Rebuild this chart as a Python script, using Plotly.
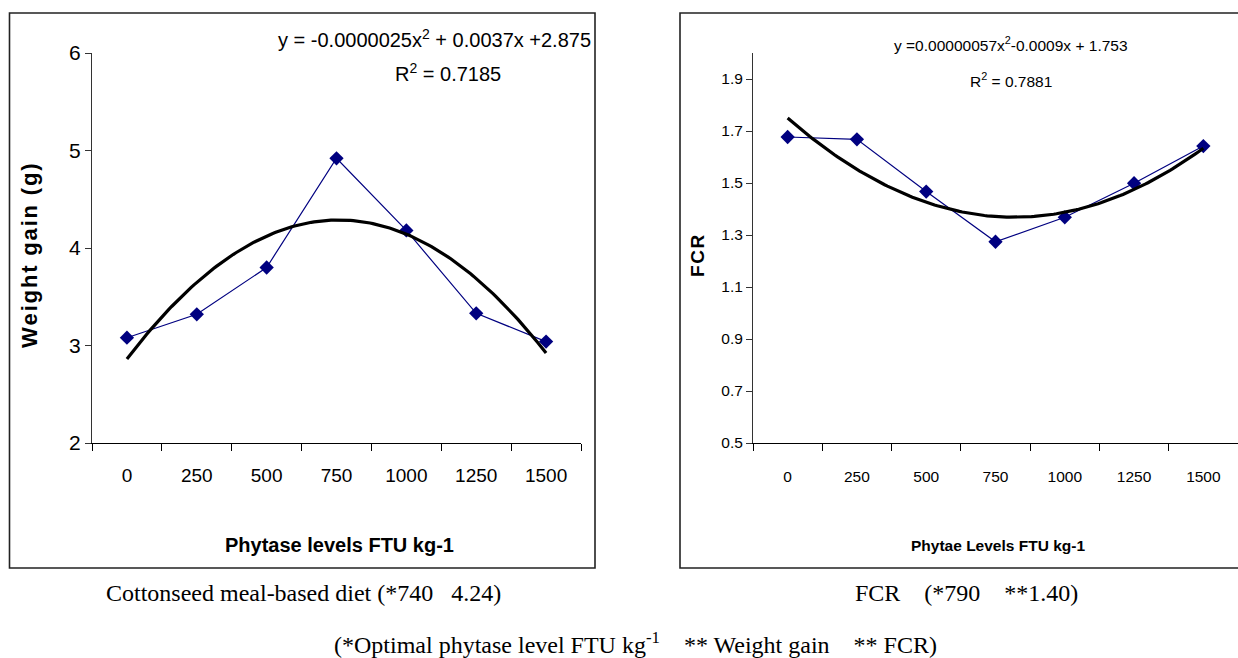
import numpy as np
import plotly.graph_objects as go

# ---------------- data ----------------
phytase_levels = [0, 250, 500, 750, 1000, 1250, 1500]
tick_labels = ["0", "250", "500", "750", "1000", "1250", "1500"]
weight_gain = [3.08, 3.32, 3.80, 4.92, 4.18, 3.33, 3.04]
fcr = [1.677, 1.668, 1.467, 1.274, 1.368, 1.499, 1.642]
wg_yticks = [2, 3, 4, 5, 6]
fcr_yticks = [0.5, 0.7, 0.9, 1.1, 1.3, 1.5, 1.7, 1.9]
category_bounds = [-125, 125, 375, 625, 875, 1125, 1375, 1625]

# quadratic trend lines fitted to the data (Excel-style polynomial trendline)
xs = np.linspace(0, 1500, 151)
wg_fit = np.polyval(np.polyfit(phytase_levels, weight_gain, 2), xs)
fcr_fit = np.polyval(np.polyfit(phytase_levels, fcr, 2), xs)

W, H = 1238, 658
def px(x):
    return x / W
def py(y):
    return (H - y) / H

SANS = "Liberation Sans, Arial, sans-serif"
SERIF = "Liberation Serif, Times New Roman, serif"
NAVY = "#000080"

fig = go.Figure()

# left chart
fig.add_trace(go.Scatter(x=phytase_levels, y=weight_gain, mode="lines+markers",
                         line=dict(color=NAVY, width=1.2),
                         marker=dict(symbol="diamond", size=11, color=NAVY),
                         xaxis="x", yaxis="y", showlegend=False, hoverinfo="skip"))
fig.add_trace(go.Scatter(x=xs, y=wg_fit, mode="lines",
                         line=dict(color="black", width=3.2),
                         xaxis="x", yaxis="y", showlegend=False, hoverinfo="skip"))
# right chart
fig.add_trace(go.Scatter(x=phytase_levels, y=fcr, mode="lines+markers",
                         line=dict(color=NAVY, width=1.2),
                         marker=dict(symbol="diamond", size=11, color=NAVY),
                         xaxis="x2", yaxis="y2", showlegend=False, hoverinfo="skip"))
fig.add_trace(go.Scatter(x=xs, y=fcr_fit, mode="lines",
                         line=dict(color="black", width=3.2),
                         xaxis="x2", yaxis="y2", showlegend=False, hoverinfo="skip"))

def xaxis_common(domain, anchor, size, standoff):
    return dict(domain=domain, anchor=anchor, range=[-125, 1625],
                tickmode="array", tickvals=phytase_levels, ticktext=tick_labels,
                ticks="", showgrid=False, zeroline=False,
                showline=True, linecolor="black", linewidth=1.2,
                ticklabelstandoff=standoff,
                tickfont=dict(family=SANS, size=size, color="black"),
                minor=dict(tickmode="array", tickvals=category_bounds, ticks="outside",
                           ticklen=7, tickcolor="black", tickwidth=1, showgrid=False),
                automargin=False, fixedrange=True)

def yaxis_common(domain, anchor, rng, vals, size, fmt):
    return dict(domain=domain, anchor=anchor, range=rng,
                tickmode="array", tickvals=vals, tickformat=fmt,
                ticks="outside", ticklen=6, tickcolor="#333", tickwidth=1,
                showgrid=False, zeroline=False,
                showline=True, linecolor="#333", linewidth=1,
                tickfont=dict(family=SANS, size=size, color="black"),
                automargin=False, fixedrange=True)

ydom = [py(443), py(53)]
fig.update_layout(
    width=W, height=H, margin=dict(l=0, r=0, t=0, b=0, autoexpand=False),
    paper_bgcolor="white", plot_bgcolor="white",
    xaxis=xaxis_common([px(92), px(581)], "y", 19, 15),
    yaxis=yaxis_common(ydom, "x", [2, 6], wg_yticks, 21, "d"),
    xaxis2=xaxis_common([px(753), 1.0], "y2", 15.5, 19),
    yaxis2=yaxis_common(ydom, "x2", [0.5, 2.0], fcr_yticks, 15.5, ".1f"),
)

# frames
fig.add_shape(type="rect", xref="paper", yref="paper",
              x0=px(9.5), x1=px(595), y0=py(568), y1=py(13),
              line=dict(color="#222", width=1.6))
fig.add_shape(type="rect", xref="paper", yref="paper",
              x0=px(680), x1=px(1250), y0=py(568), y1=py(13),
              line=dict(color="#222", width=1.6))

def ann(text, x, y, size, family=SANS, bold=False, xanchor="center", angle=0):
    if bold:
        text = "<b>" + text + "</b>"
    fig.add_annotation(text=text, xref="paper", yref="paper", x=px(x), y=py(y),
                       xanchor=xanchor, yanchor="middle", showarrow=False,
                       textangle=angle,
                       font=dict(family=family, size=size, color="black"))

hs = "\u200a"
# left texts
ann("y = -0.0000025x<sup>2</sup> + 0.0037x +2.875", 593, 38, 20, xanchor="right")
ann("R<sup>2</sup> = 0.7185", 448, 73, 20)
ann(hs.join("Weight gain (g)"), 29, 256, 22, bold=True, angle=-90)
ann("Phytase levels FTU kg-1", 340, 545, 20, bold=True)
ann("Cottonseed meal-based diet (*740\u00a0\u00a0\u00a04.24)", 303, 593, 24, family=SERIF)

# right texts
ann("y =0.00000057x<sup>2</sup>-0.0009x + 1.753", 1011, 44, 15.5)
ann("R<sup>2</sup> = 0.7881", 1011, 80, 15.5)
ann(hs.join("FCR"), 697, 256, 19, bold=True, angle=-90)
ann("Phytae Levels FTU kg-1", 998, 545, 15.5, bold=True)
ann("FCR\u00a0\u00a0\u00a0\u00a0(*790\u00a0\u00a0\u00a0\u00a0**1.40)", 966, 593, 24, family=SERIF)

# bottom caption
ann("(*Optimal phytase level FTU kg<sup>-1</sup>\u00a0\u00a0\u00a0\u00a0** Weight gain\u00a0\u00a0\u00a0\u00a0** FCR)",
    635, 643, 24, family=SERIF)

fig.write_html("out.html",
               config={"displayModeBar": False, "staticPlot": True},
               post_script="document.body.style.margin='0px';document.body.style.overflow='hidden';")
